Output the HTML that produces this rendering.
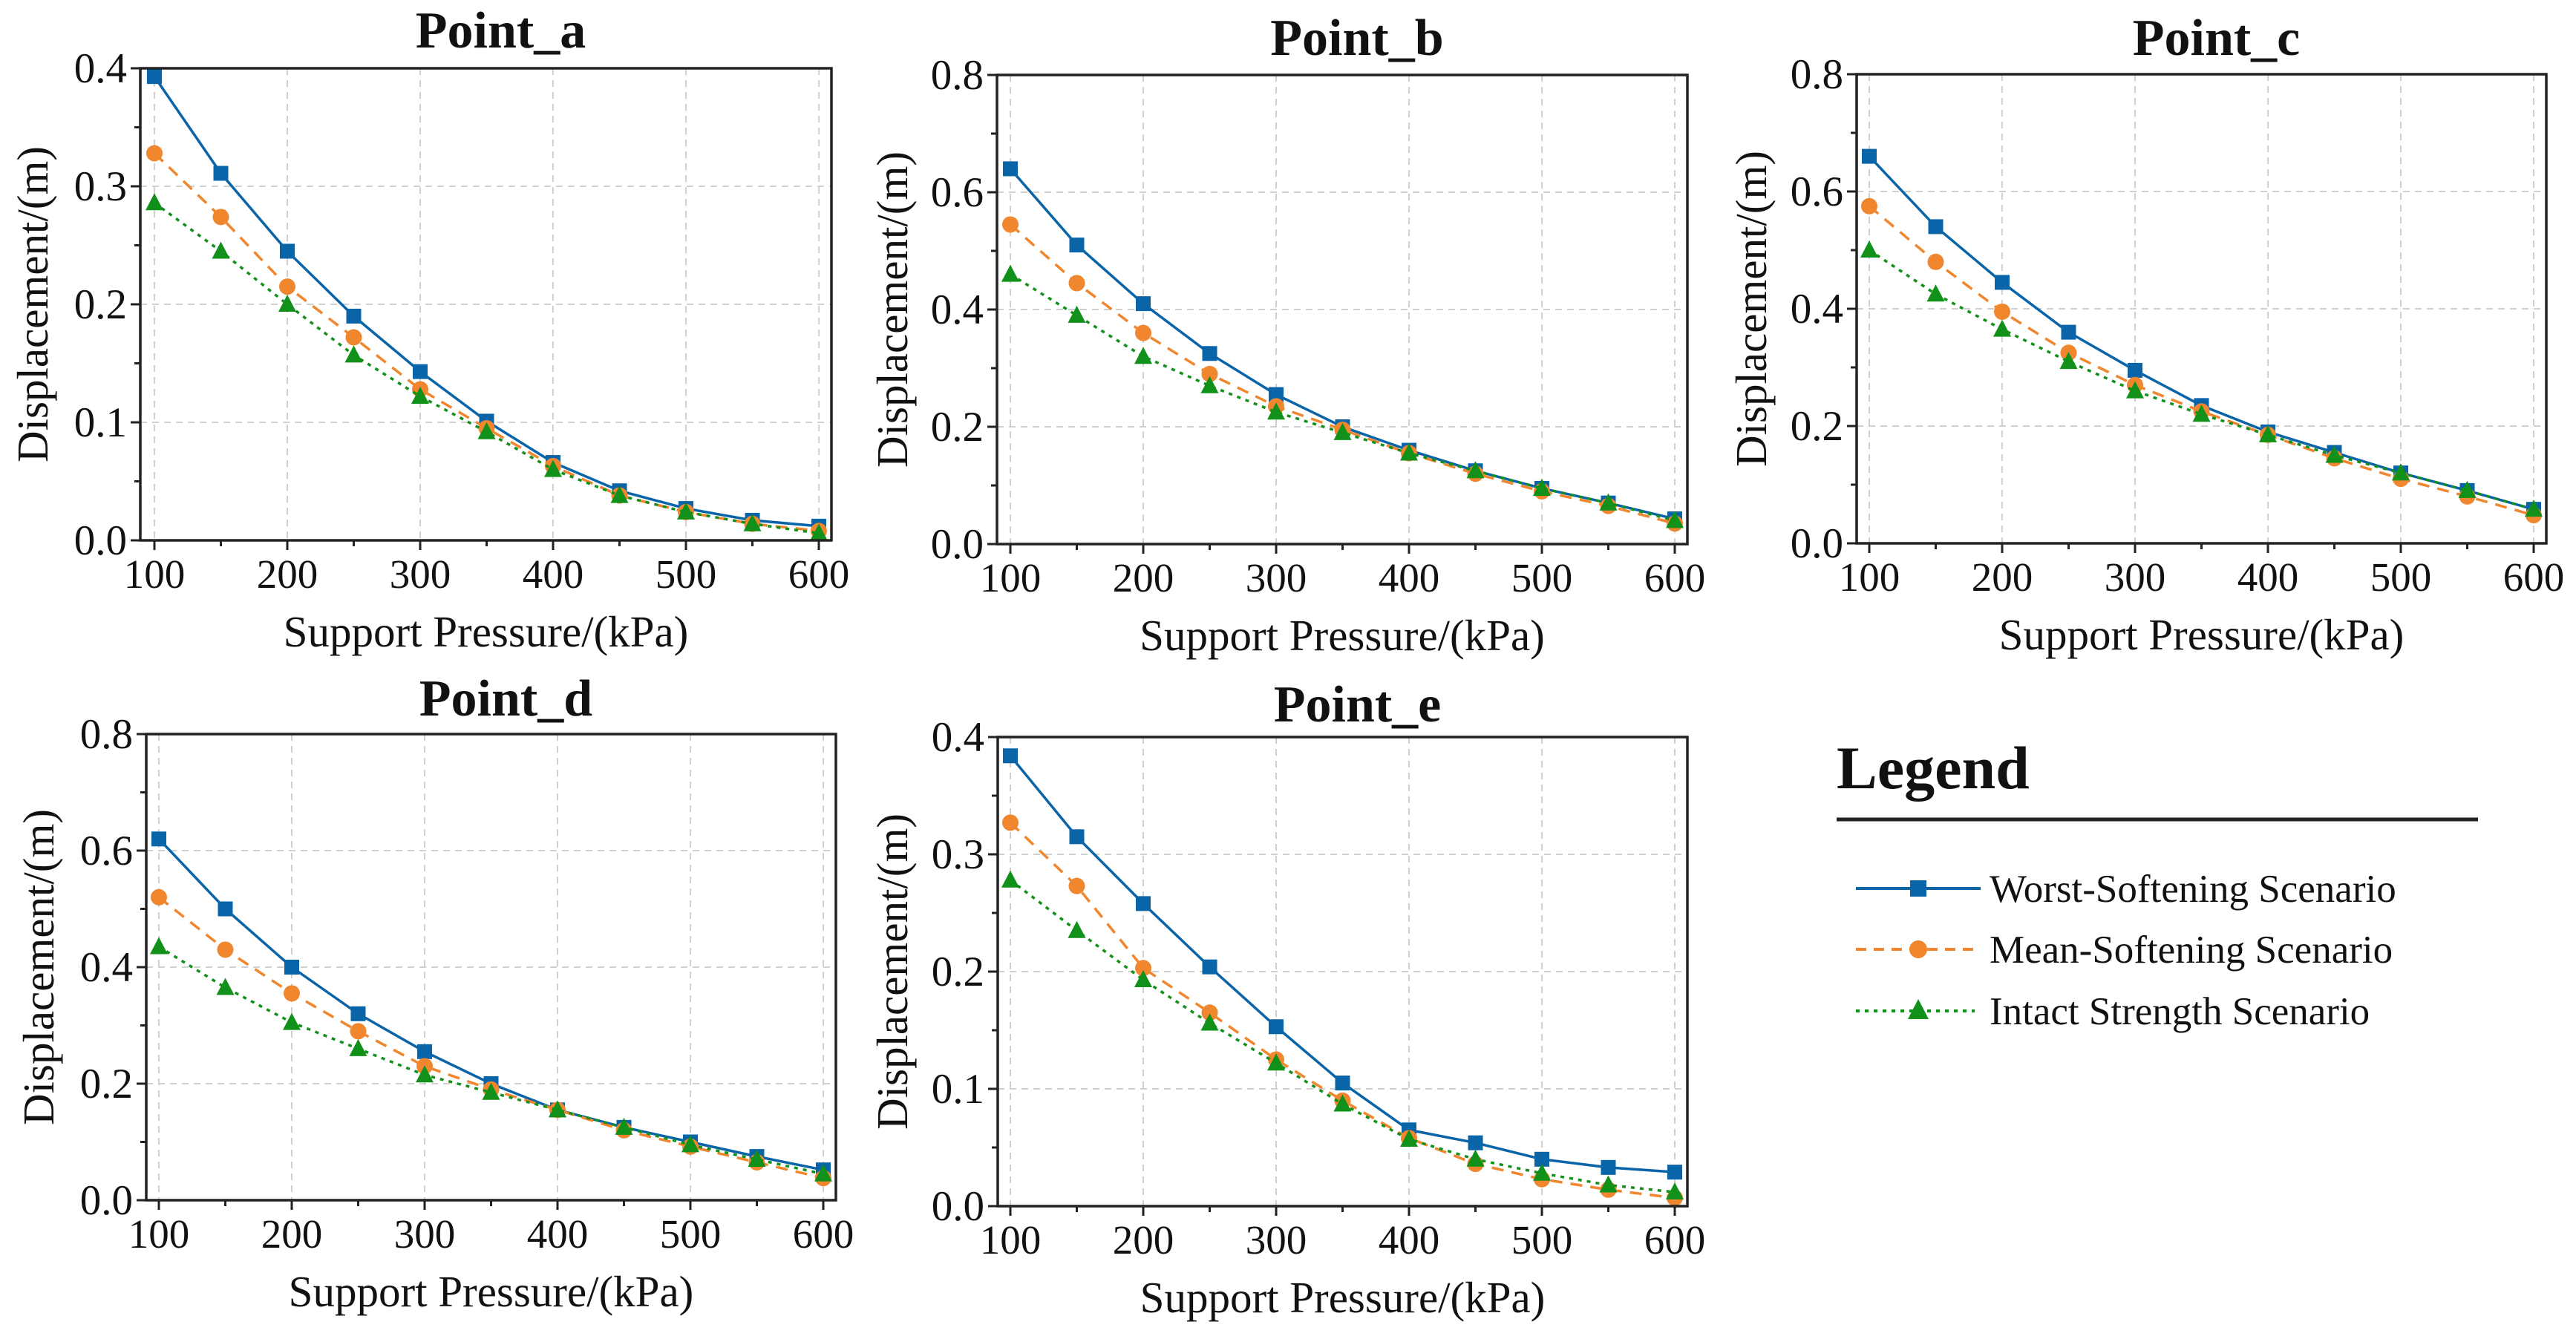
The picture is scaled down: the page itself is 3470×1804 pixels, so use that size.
<!DOCTYPE html>
<html><head><meta charset="utf-8">
<style>
html,body{margin:0;padding:0;background:#fff;}
svg{display:block;}
text{font-family:"Liberation Serif","DejaVu Serif",serif;fill:#111;}
</style></head>
<body>
<svg id="fig" width="3470" height="1804" viewBox="0 0 3470 1804" xmlns="http://www.w3.org/2000/svg">
<rect width="3470" height="1804" fill="#fff"/>
<g id="legend">
  <text x="2474" y="1062" font-size="82" font-weight="bold" fill="#2a2222">Legend</text>
  <line x1="2474" y1="1104" x2="3338" y2="1104" stroke="#222" stroke-width="5"/>
  <g>
    <line x1="2500" y1="1197" x2="2668" y2="1197" stroke="#0a64a8" stroke-width="4"/>
    <rect x="2573" y="1186" width="22" height="22" fill="#0a64a8"/>
    <text x="2680" y="1215" font-size="53">Worst-Softening Scenario</text>
  </g>
  <g>
    <line x1="2500" y1="1279" x2="2664" y2="1279" stroke="#f0862d" stroke-width="4" stroke-dasharray="14,10"/>
    <circle cx="2584" cy="1279" r="12" fill="#f0862d"/>
    <text x="2680" y="1297" font-size="53">Mean-Softening Scenario</text>
  </g>
  <g>
    <line x1="2500" y1="1362" x2="2660" y2="1362" stroke="#11901a" stroke-width="4" stroke-dasharray="5,7"/>
    <polygon points="2584,1346 2598,1373 2570,1373" fill="#11901a"/>
    <text x="2680" y="1380" font-size="53">Intact Strength Scenario</text>
  </g>
</g>
</svg>
<script>
const pressures = [100,150,200,250,300,350,400,450,500,550,600];
const xTickLabels = ['100','200','300','400','500','600'];
const seriesNames = ['worst','mean','intact'];
const worstA = [0.393,0.311,0.245,0.190,0.143,0.101,0.066,0.042,0.027,0.017,0.012];
const meanA  = [0.328,0.274,0.215,0.172,0.128,0.095,0.063,0.038,0.024,0.014,0.008];
const intactA= [0.286,0.245,0.200,0.157,0.122,0.092,0.060,0.038,0.024,0.014,0.006];
const worstB = [0.640,0.510,0.410,0.325,0.255,0.200,0.160,0.125,0.095,0.070,0.043];
const meanB  = [0.545,0.445,0.360,0.290,0.235,0.195,0.155,0.120,0.090,0.065,0.035];
const intactB= [0.460,0.390,0.320,0.270,0.225,0.190,0.155,0.125,0.095,0.070,0.040];
const worstC = [0.660,0.540,0.445,0.360,0.295,0.235,0.190,0.155,0.120,0.090,0.058];
const meanC  = [0.575,0.480,0.395,0.325,0.270,0.225,0.185,0.145,0.110,0.080,0.048];
const intactC= [0.500,0.425,0.365,0.310,0.260,0.220,0.185,0.150,0.120,0.090,0.058];
const worstD = [0.620,0.500,0.400,0.320,0.255,0.200,0.155,0.125,0.100,0.075,0.052];
const meanD  = [0.520,0.430,0.355,0.290,0.230,0.190,0.155,0.120,0.092,0.065,0.038];
const intactD= [0.435,0.365,0.305,0.260,0.215,0.185,0.155,0.125,0.095,0.070,0.045];
const worstE = [0.384,0.315,0.258,0.204,0.153,0.105,0.065,0.054,0.040,0.033,0.029];
const meanE  = [0.327,0.273,0.203,0.165,0.125,0.090,0.058,0.036,0.023,0.014,0.007];
const intactE= [0.278,0.235,0.193,0.156,0.122,0.087,0.057,0.040,0.028,0.018,0.012];
const yTicksSmall = ['0.0','0.1','0.2','0.3','0.4'];
const yTicksLarge = ['0.0','0.2','0.4','0.6','0.8'];

const NS='http://www.w3.org/2000/svg';
const fig=document.getElementById('fig');
function mk(tag,attrs,parent){const e=document.createElementNS(NS,tag);for(const k in attrs)e.setAttribute(k,attrs[k]);parent.appendChild(e);return e;}

const panels=[
 {id:'a',title:'Point_a',left:189,top:92,bottom:728,x100:208,ymax:0.4,yt:yTicksSmall,s:[worstA,meanA,intactA],ylx:44,titleY:64},
 {id:'b',title:'Point_b',left:1343,top:101,bottom:733,x100:1361,ymax:0.8,yt:yTicksLarge,s:[worstB,meanB,intactB],ylx:1202,titleY:74},
 {id:'c',title:'Point_c',left:2501,top:100,bottom:732,x100:2518,ymax:0.8,yt:yTicksLarge,s:[worstC,meanC,intactC],ylx:2359,titleY:74},
 {id:'d',title:'Point_d',left:197,top:989,bottom:1617,x100:214,ymax:0.8,yt:yTicksLarge,s:[worstD,meanD,intactD],ylx:52,titleY:964},
 {id:'e',title:'Point_e',left:1344,top:993,bottom:1625,x100:1361,ymax:0.4,yt:yTicksSmall,s:[worstE,meanE,intactE],ylx:1202,titleY:972}
];
const colors=['#0a64a8','#f0862d','#11901a'];
const dashes=['none','16,11','5,7'];
const xStep=179;

panels.forEach(p=>{
  const right=p.x100+5*xStep+17;
  const g=mk('g',{},fig);
  
  
  const X=v=>p.x100+(v-100)/100*xStep;
  const Y=v=>p.bottom-v/p.ymax*(p.bottom-p.top);
  for(let i=0;i<xTickLabels.length;i++){
    const v=+xTickLabels[i];
    const l=mk('line',{x1:X(v),x2:X(v),y1:p.top,y2:p.bottom,stroke:'#d0d0d0','stroke-width':2,'stroke-dasharray':'9,7'},g);
    
    
  }
  for(let i=1;i<p.yt.length;i++){
    const v=+p.yt[i];
    const l=mk('line',{x1:p.left,x2:right,y1:Y(v),y2:Y(v),stroke:'#d0d0d0','stroke-width':2,'stroke-dasharray':'9,7'},g);
    
    
  }
  p.s.forEach((arr,si)=>{
    const sg=mk('g',{},g);
    
    
    const pts=arr.map((v,i)=>X(pressures[i])+','+Y(v)).join(' ');
    const pl=mk('polyline',{points:pts,fill:'none',stroke:colors[si],'stroke-width':3.5},sg);
    if(dashes[si]!=='none')pl.setAttribute('stroke-dasharray',dashes[si]);
    
    
    arr.forEach((v,i)=>{
      const cx=X(pressures[i]),cy=Y(v);let m;
      if(si===0)m=mk('rect',{x:cx-10,y:cy-10,width:20,height:20,fill:colors[0]},sg);
      else if(si===1)m=mk('circle',{cx:cx,cy:cy,r:11,fill:colors[1]},sg);
      else m=mk('polygon',{points:`${cx},${cy-13} ${cx+12},${cy+10} ${cx-12},${cy+10}`,fill:colors[2]},sg);
      
      
    });
  });
  const fr=mk('rect',{x:p.left,y:p.top,width:right-p.left,height:p.bottom-p.top,fill:'none',stroke:'#222','stroke-width':3.5},g);
  
  
  for(let v=100;v<=600;v+=50){
    const major=v%100===0;
    const t=mk('line',{x1:X(v),x2:X(v),y1:p.bottom,y2:p.bottom+(major?13:8),stroke:'#222','stroke-width':3},g);
    
    
  }
  xTickLabels.forEach(s=>{
    const t=mk('text',{x:X(+s),y:p.bottom+64,'font-size':55,'text-anchor':'middle'},g);
    t.textContent=s;
    
    
  });
  for(let i=0;i<p.yt.length;i++){
    const v=+p.yt[i];
    const t=mk('line',{x1:p.left-13,x2:p.left,y1:Y(v),y2:Y(v),stroke:'#222','stroke-width':3},g);
    
    
    if(i<p.yt.length-1){
      const mv=v+p.ymax/8;
      const mt=mk('line',{x1:p.left-8,x2:p.left,y1:Y(mv),y2:Y(mv),stroke:'#222','stroke-width':3},g);
      
      
    }
    const lb=mk('text',{x:p.left-18,y:Y(v)+19,'font-size':57,'text-anchor':'end'},g);
    lb.textContent=p.yt[i];
    
    
  }
  const cx=(p.left+right)/2, cy=(p.top+p.bottom)/2;
  const xt=mk('text',{x:cx,y:p.bottom+143,'font-size':59,'text-anchor':'middle'},g);
  xt.textContent='Support Pressure/(kPa)';
  
  
  const yt=mk('text',{x:0,y:0,'font-size':59,'text-anchor':'middle',transform:`translate(${p.ylx+20},${cy}) rotate(-90)`},g);
  yt.textContent='Displacement/(m)';
  
  
  const tt=mk('text',{x:cx+20,y:p.titleY,'font-size':70,'font-weight':'bold','text-anchor':'middle'},g);
  tt.textContent=p.title;
  
  
});
</script>
</body></html>
